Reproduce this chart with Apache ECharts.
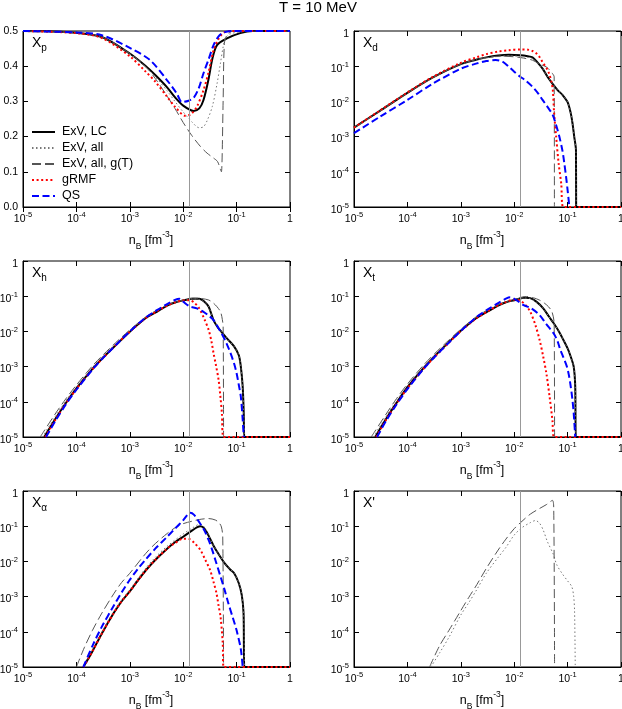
<!DOCTYPE html>
<html>
<head>
<meta charset="utf-8">
<script src="https://cdn.jsdelivr.net/npm/echarts@6/dist/echarts.min.js"></script>
<style>
html, body { margin: 0; padding: 0; background: #fff; }
#main { width: 622px; height: 709px; }
</style>
</head>
<body>
<div id="main"></div>
<script>
// series names, same order in every panel
var names = ['ExV, LC', 'ExV, all', 'ExV, all, g(T)', 'gRMF', 'QS'];
var nVert = 0.0132;   // grey vertical marker

// X_p  (linear y)
var xpLC  = [[1e-5,0.5],[3e-5,0.499],[1e-4,0.495],[3e-4,0.483],[1e-3,0.436],[2e-3,0.4],[3e-3,0.375],[5e-3,0.34],[7e-3,0.312],[1e-2,0.288],[1.57e-2,0.273],[2e-2,0.28],[2.4e-2,0.304],[3e-2,0.365],[3.5e-2,0.42],[4.3e-2,0.46],[6.6e-2,0.479],[0.117,0.494],[0.2,0.5],[1,0.5]];
var xpAll = [[1e-5,0.5],[1e-4,0.495],[3e-4,0.483],[1e-3,0.435],[2e-3,0.398],[3e-3,0.37],[5e-3,0.33],[7e-3,0.3],[1e-2,0.27],[1.45e-2,0.242],[2e-2,0.225],[2.4e-2,0.228],[2.8e-2,0.245],[3.5e-2,0.285],[4.3e-2,0.35],[5e-2,0.41],[5.6e-2,0.455],[6.2e-2,0.48],[7.7e-2,0.492],[0.117,0.497],[0.2,0.5],[1,0.5]];
var xpGT  = [[1e-5,0.5],[1e-4,0.495],[3e-4,0.483],[1e-3,0.436],[2e-3,0.398],[3e-3,0.365],[5e-3,0.315],[7e-3,0.28],[1e-2,0.24],[1.45e-2,0.203],[2.1e-2,0.172],[2.8e-2,0.153],[3.7e-2,0.139],[4.4e-2,0.129],[5e-2,0.106],[5.2e-2,0.1],[5.6e-2,0.304],[5.9e-2,0.464],[6.6e-2,0.488],[8.8e-2,0.5],[1,0.5]];
var xpRMF = [[1e-5,0.5],[1e-4,0.494],[3e-4,0.48],[1e-3,0.428],[2e-3,0.384],[3e-3,0.356],[5e-3,0.313],[7e-3,0.285],[1.1e-2,0.259],[1.4e-2,0.264],[1.8e-2,0.285],[2.4e-2,0.332],[3e-2,0.384],[3.7e-2,0.445],[4.6e-2,0.478],[5.7e-2,0.495],[7.7e-2,0.5],[1,0.5]];
var xpQS  = [[1e-5,0.5],[1e-4,0.496],[3e-4,0.488],[1e-3,0.452],[2.4e-3,0.417],[5e-3,0.36],[7.6e-3,0.322],[9.5e-3,0.298],[1.26e-2,0.302],[1.57e-2,0.31],[1.95e-2,0.337],[2.4e-2,0.38],[3e-2,0.42],[3.7e-2,0.46],[4.6e-2,0.485],[5.7e-2,0.496],[8.8e-2,0.5],[1,0.5]];

// X_d
var xdLC  = [[1e-5,1.8e-3],[3e-5,5.3e-3],[1e-4,1.75e-2],[3e-4,4.8e-2],[1e-3,0.115],[2e-3,0.155],[3e-3,0.178],[5e-3,0.2],[8e-3,0.21],[1.3e-2,0.205],[1.8e-2,0.192],[2.2e-2,0.178],[2.7e-2,0.13],[3.4e-2,0.085],[4.2e-2,0.05],[5.2e-2,0.032],[6.5e-2,0.021],[8.1e-2,0.015],[0.1,0.0095],[0.115,0.0045],[0.124,0.0023],[0.133,1e-3],[0.1435,4e-4],[0.1445,1e-5],[1,1e-5]];
var xdAll = [[1e-5,1.75e-3],[3e-5,5.2e-3],[1e-4,1.72e-2],[3e-4,4.7e-2],[1e-3,0.113],[2e-3,0.152],[3e-3,0.172],[5e-3,0.19],[8e-3,0.197],[1.3e-2,0.19],[1.8e-2,0.178],[2.2e-2,0.165],[2.7e-2,0.125],[3.4e-2,0.085],[4.2e-2,0.05],[5.2e-2,0.032],[6.5e-2,0.021],[8.1e-2,0.015],[0.1,0.0095],[0.115,0.0045],[0.124,0.0023],[0.133,1e-3],[0.1435,4e-4],[0.1445,1e-5]];
var xdGT  = [[1e-5,1.8e-3],[3e-5,5.3e-3],[1e-4,1.75e-2],[3e-4,4.8e-2],[1e-3,0.115],[2e-3,0.155],[3e-3,0.175],[5.3e-3,0.193],[1e-2,0.185],[1.5e-2,0.17],[2.2e-2,0.148],[3e-2,0.115],[4e-2,0.095],[4.7e-2,0.075],[5.2e-2,0.062],[5.6e-2,0.05],[5.66e-2,1e-5]];
var xdRMF = [[1e-5,1.8e-3],[3e-5,5.4e-3],[1e-4,1.8e-2],[3e-4,5e-2],[1e-3,0.125],[2e-3,0.18],[3e-3,0.22],[5e-3,0.26],[8e-3,0.285],[1.3e-2,0.3],[1.8e-2,0.295],[2.2e-2,0.27],[2.6e-2,0.23],[3e-2,0.18],[3.4e-2,0.13],[4e-2,0.09],[4.5e-2,0.062],[5e-2,0.035],[5.3e-2,0.02],[5.6e-2,4.5e-3],[6.1e-2,1e-3],[6.8e-2,1.7e-4],[7.6e-2,4.6e-5],[8.3e-2,1e-5],[1,1e-5]];
var xdQS  = [[1e-5,1.25e-3],[3e-5,3.6e-3],[1e-4,1.1e-2],[3e-4,3.2e-2],[1e-3,0.085],[2e-3,0.12],[3e-3,0.14],[4.5e-3,0.15],[6e-3,0.135],[8e-3,0.095],[1e-2,0.07],[1.26e-2,0.052],[1.6e-2,0.04],[2.2e-2,0.026],[2.8e-2,0.017],[3.4e-2,0.011],[4.2e-2,7e-3],[5.2e-2,4.3e-3],[6e-2,2.3e-3],[7e-2,1e-3],[8e-2,4e-4],[8.7e-2,1.7e-4],[9.5e-2,6e-5],[0.1,3e-5],[0.108,1e-5]];

// X_h
var xhLC  = [[2.5e-5,1e-5],[4e-5,3.2e-5],[6.3e-5,9.1e-5],[1e-4,2.4e-4],[2e-4,8.6e-4],[3.2e-4,1.84e-3],[6e-4,4.7e-3],[1e-3,9.8e-3],[2e-3,2.4e-2],[3.2e-3,3.6e-2],[5e-3,5.4e-2],[7e-3,6.6e-2],[1e-2,7.6e-2],[1.5e-2,8.5e-2],[2e-2,8.5e-2],[2.5e-2,7e-2],[3e-2,5e-2],[3.7e-2,2.1e-2],[4.3e-2,1.4e-2],[5e-2,1.05e-2],[6.6e-2,6.3e-3],[8.9e-2,3.8e-3],[0.11,2.1e-3],[0.12,1e-3],[0.13,2.7e-4],[0.136,4.8e-5],[0.14,1e-5],[1,1e-5]];
var xhAll = [[2.3e-5,1e-5],[4e-5,3.8e-5],[6.3e-5,1.05e-4],[1e-4,2.7e-4],[2e-4,9.5e-4],[3.2e-4,2e-3],[6e-4,5e-3],[1e-3,1.02e-2],[2e-3,2.5e-2],[3.2e-3,3.8e-2],[5e-3,5.6e-2],[1e-2,7.8e-2],[1.5e-2,8.4e-2],[2e-2,8.2e-2],[2.5e-2,6.8e-2],[3e-2,5e-2],[3.7e-2,2.1e-2],[5e-2,1.05e-2],[6.6e-2,6.3e-3],[8.9e-2,3.8e-3],[0.11,2.1e-3],[0.12,1e-3],[0.13,2.7e-4],[0.136,4.8e-5],[0.14,1e-5]];
var xhGT  = [[2.1e-5,1e-5],[4e-5,4.5e-5],[6.3e-5,1.2e-4],[1e-4,3e-4],[2e-4,1.05e-3],[3.2e-4,2.2e-3],[6e-4,5.5e-3],[1e-3,1.1e-2],[2e-3,2.6e-2],[3.2e-3,4e-2],[5e-3,5.6e-2],[1e-2,7.8e-2],[1.5e-2,8.8e-2],[2e-2,8.7e-2],[3e-2,7.8e-2],[3.7e-2,6.3e-2],[4.3e-2,5e-2],[5e-2,3.6e-2],[5.4e-2,2.2e-2],[5.6e-2,1.35e-2],[5.7e-2,1e-5]];
var xhRMF = [[2.6e-5,1e-5],[4e-5,3e-5],[6.3e-5,8.8e-5],[1e-4,2.3e-4],[2e-4,8.4e-4],[3.2e-4,1.8e-3],[6e-4,4.7e-3],[1e-3,9.8e-3],[2e-3,2.4e-2],[3.2e-3,3.7e-2],[5e-3,5.4e-2],[7e-3,6.6e-2],[1e-2,7.6e-2],[1.3e-2,7.7e-2],[1.6e-2,6.6e-2],[2e-2,4.5e-2],[2.5e-2,2.2e-2],[3e-2,1.1e-2],[3.4e-2,5e-3],[3.7e-2,2.4e-3],[4.1e-2,1.1e-3],[4.6e-2,4.2e-4],[5e-2,1.3e-4],[5.3e-2,4.8e-5],[5.7e-2,1e-5],[1,1e-5]];
var xhQS  = [[2.7e-5,1e-5],[4e-5,2.8e-5],[6.3e-5,8.3e-5],[1e-4,2.2e-4],[2e-4,8.2e-4],[3.2e-4,1.8e-3],[6e-4,4.7e-3],[1e-3,1e-2],[2e-3,2.5e-2],[3.2e-3,4e-2],[5e-3,6e-2],[7e-3,7.8e-2],[8.5e-3,8.4e-2],[1e-2,7e-2],[1.3e-2,5.2e-2],[1.8e-2,4.5e-2],[2.4e-2,3.6e-2],[3e-2,2.8e-2],[3.7e-2,2.1e-2],[4.5e-2,1.3e-2],[5.4e-2,8e-3],[6.5e-2,4.5e-3],[7.7e-2,2.4e-3],[0.09,1.2e-3],[0.1,6.5e-4],[0.11,3e-4],[0.12,1.4e-4],[0.13,3.1e-5],[0.136,1e-5]];

// X_t
var xtLC  = [[2.5e-5,1e-5],[4e-5,3.3e-5],[6.3e-5,9.5e-5],[1e-4,2.6e-4],[2e-4,9e-4],[3.2e-4,1.95e-3],[6e-4,5e-3],[1e-3,1.05e-2],[2e-3,2.45e-2],[3.2e-3,3.7e-2],[5e-3,5.4e-2],[7e-3,6.7e-2],[1e-2,7.7e-2],[1.5e-2,9.1e-2],[2e-2,8.8e-2],[2.6e-2,7e-2],[3.5e-2,4.5e-2],[4.5e-2,2.6e-2],[5.5e-2,1.7e-2],[7e-2,9.5e-3],[8.4e-2,5.6e-3],[0.1,3.3e-3],[0.112,2.1e-3],[0.13,1e-3],[0.139,2.7e-4],[0.143,1e-5],[1,1e-5]];
var xtAll = [[2.3e-5,1e-5],[4e-5,3.9e-5],[6.3e-5,1.1e-4],[1e-4,2.9e-4],[2e-4,1e-3],[3.2e-4,2.1e-3],[6e-4,5.3e-3],[1e-3,1.1e-2],[2e-3,2.55e-2],[3.2e-3,3.9e-2],[5e-3,5.6e-2],[1e-2,7.9e-2],[1.5e-2,8.9e-2],[2e-2,8.5e-2],[2.6e-2,6.8e-2],[3.5e-2,4.5e-2],[4.5e-2,2.6e-2],[5.5e-2,1.7e-2],[7e-2,9.5e-3],[8.4e-2,5.6e-3],[0.1,3.3e-3],[0.112,2.1e-3],[0.13,1e-3],[0.139,2.7e-4],[0.143,1e-5]];
var xtGT  = [[2.1e-5,1e-5],[4e-5,4.5e-5],[6.3e-5,1.25e-4],[1e-4,3.2e-4],[2e-4,1.1e-3],[3.2e-4,2.3e-3],[6e-4,5.7e-3],[1e-3,1.15e-2],[2e-3,2.7e-2],[3.2e-3,4.1e-2],[5e-3,5.8e-2],[1e-2,8.2e-2],[1.7e-2,9.8e-2],[2.3e-2,9e-2],[3e-2,7.7e-2],[3.7e-2,6.3e-2],[4.4e-2,5e-2],[5.1e-2,3.6e-2],[5.6e-2,1.7e-2],[5.7e-2,1e-5]];
var xtRMF = [[2.6e-5,1e-5],[4e-5,3.1e-5],[6.3e-5,9e-5],[1e-4,2.4e-4],[2e-4,8.6e-4],[3.2e-4,1.85e-3],[6e-4,4.8e-3],[1e-3,1.02e-2],[2e-3,2.4e-2],[3.2e-3,3.7e-2],[5e-3,5.5e-2],[7e-3,6.8e-2],[1e-2,8e-2],[1.3e-2,7.4e-2],[1.6e-2,5.8e-2],[2e-2,3.6e-2],[2.5e-2,1.5e-2],[3e-2,5.6e-3],[3.5e-2,1.9e-3],[4e-2,6.5e-4],[4.6e-2,1.4e-4],[5.2e-2,3e-5],[5.6e-2,1e-5],[1,1e-5]];
var xtQS  = [[2.7e-5,1e-5],[4e-5,2.9e-5],[6.3e-5,8.5e-5],[1e-4,2.3e-4],[2e-4,8.5e-4],[3.2e-4,1.85e-3],[6e-4,4.8e-3],[1e-3,1.03e-2],[2e-3,2.6e-2],[3.2e-3,4.2e-2],[5e-3,6.4e-2],[7e-3,8.5e-2],[8.4e-3,9.3e-2],[1.1e-2,7.7e-2],[1.5e-2,5.6e-2],[2.1e-2,4.5e-2],[3e-2,2.9e-2],[4e-2,1.6e-2],[5.5e-2,8.7e-3],[6.5e-2,5.2e-3],[7.3e-2,3e-3],[8.5e-2,1.7e-3],[9.7e-2,1e-3],[0.105,6e-4],[0.112,3.4e-4],[0.122,1.3e-4],[0.13,4.8e-5],[0.139,1e-5]];

// X_alpha
var xaLC  = [[1.35e-4,1e-5],[1.7e-4,1.8e-5],[2e-4,2.8e-5],[3e-4,9e-5],[5e-4,3.4e-4],[7e-4,7.3e-4],[1e-3,1.4e-3],[1.4e-3,2.8e-3],[2e-3,5.6e-3],[3e-3,1.1e-2],[5e-3,2.3e-2],[7e-3,3.5e-2],[1e-2,5e-2],[1.5e-2,7.7e-2],[1.8e-2,9.2e-2],[2.1e-2,0.1],[2.4e-2,0.092],[2.7e-2,0.072],[3e-2,5.3e-2],[3.7e-2,2.8e-2],[4.5e-2,1.7e-2],[6e-2,8.8e-3],[7.5e-2,6e-3],[9e-2,4.6e-3],[0.11,2.4e-3],[0.125,1.1e-3],[0.135,3.4e-4],[0.14,1e-5],[1,1e-5]];
var xaAll = [[1.3e-4,1e-5],[2e-4,3.2e-5],[3e-4,1e-4],[5e-4,3.8e-4],[1e-3,1.6e-3],[2e-3,6.5e-3],[3e-3,1.3e-2],[5e-3,2.7e-2],[1e-2,6e-2],[1.5e-2,9e-2],[2e-2,0.112],[2.4e-2,0.1],[2.7e-2,0.075],[3e-2,5.5e-2],[3.7e-2,2.8e-2],[4.5e-2,1.7e-2],[6e-2,8.8e-3],[7.5e-2,6e-3],[9e-2,4.6e-3],[0.11,2.4e-3],[0.125,1.1e-3],[0.135,3.4e-4],[0.14,1e-5]];
var xaGT  = [[1e-4,1e-5],[1.4e-4,3.5e-5],[2e-4,1.1e-4],[3e-4,3.4e-4],[5e-4,1.2e-3],[7e-4,2.5e-3],[1e-3,4.6e-3],[2e-3,1.7e-2],[3e-3,3.2e-2],[5e-3,6.2e-2],[7e-3,9e-2],[1e-2,0.118],[1.5e-2,0.14],[2e-2,0.155],[3e-2,0.165],[4e-2,0.15],[4.7e-2,0.125],[5.2e-2,0.095],[5.5e-2,5e-2],[5.7e-2,1e-5]];
var xaRMF = [[1.35e-4,1e-5],[1.7e-4,1.8e-5],[2e-4,2.8e-5],[3e-4,9e-5],[5e-4,3.4e-4],[7e-4,7.3e-4],[1e-3,1.4e-3],[1.4e-3,2.8e-3],[2e-3,5.6e-3],[3e-3,1.1e-2],[5e-3,2.3e-2],[7e-3,3.3e-2],[1e-2,4.4e-2],[1.3e-2,4.3e-2],[1.6e-2,3.4e-2],[2.1e-2,2.1e-2],[2.6e-2,1.1e-2],[3.2e-2,5.6e-3],[3.7e-2,2.6e-3],[4.2e-2,1.25e-3],[4.6e-2,5.5e-4],[5e-2,2.7e-4],[5.5e-2,4.8e-5],[5.7e-2,1e-5],[1,1e-5]];
var xaQS  = [[1.35e-4,1e-5],[2e-4,4e-5],[3e-4,1.4e-4],[5e-4,5.5e-4],[7e-4,1.3e-3],[1e-3,3e-3],[1.4e-3,6e-3],[2e-3,1.15e-2],[3e-3,2.3e-2],[5e-3,5e-2],[7e-3,8.5e-2],[1e-2,0.148],[1.2e-2,0.21],[1.35e-2,0.24],[1.6e-2,0.21],[2e-2,0.13],[2.5e-2,7.5e-2],[3e-2,4e-2],[3.5e-2,2.1e-2],[4e-2,1.1e-2],[5e-2,3.7e-3],[6e-2,1.5e-3],[7e-2,6.5e-4],[8.5e-2,2.5e-4],[0.1,1.1e-4],[0.12,3.2e-5],[0.13,1e-5]];

// X'
var xoAll = [[2.75e-4,1e-5],[4e-4,2.5e-5],[6e-4,7e-5],[1e-3,3e-4],[1.4e-3,6.6e-4],[2e-3,1.6e-3],[3e-3,4.6e-3],[5e-3,1.3e-2],[7e-3,2.5e-2],[1e-2,5.6e-2],[1.4e-2,9.1e-2],[2e-2,0.126],[2.5e-2,0.145],[3e-2,0.12],[3.5e-2,7.7e-2],[4.2e-2,3.6e-2],[5.3e-2,1.7e-2],[6.3e-2,7.9e-3],[8e-2,4.4e-3],[9.8e-2,2.9e-3],[0.12,1.9e-3],[0.13,1e-3],[0.135,4e-4],[0.139,1e-5]];
var xoGT  = [[2.6e-4,1e-5],[4e-4,4e-5],[6e-4,1.1e-4],[1e-3,4e-4],[1.4e-3,9.3e-4],[2e-3,2.2e-3],[3e-3,6.3e-3],[5e-3,2.1e-2],[7e-3,4.3e-2],[1e-2,8.5e-2],[1.4e-2,0.138],[2e-2,0.22],[3e-2,0.32],[4e-2,0.41],[5.2e-2,0.54],[5.5e-2,0.3],[5.7e-2,1e-5]];

var FONT = '"Liberation Sans", Arial, sans-serif';
var styles = [
    { color: '#000', width: 2, type: 'solid' },
    { color: '#777', width: 1, type: [1.5, 2.5] },
    { color: '#555', width: 1, type: [9, 4] },
    { color: '#ff0000', width: 2, type: [2, 2.6] },
    { color: '#0000ff', width: 2, type: [7, 3.5] }
];

var panels = [
    { lab: '{x|X}{s|p}', log: false, data: [xpLC, xpAll, xpGT, xpRMF, xpQS] },
    { lab: '{x|X}{s|d}', log: true,  data: [xdLC, xdAll, xdGT, xdRMF, xdQS] },
    { lab: '{x|X}{s|h}', log: true,  data: [xhLC, xhAll, xhGT, xhRMF, xhQS] },
    { lab: '{x|X}{s|t}', log: true,  data: [xtLC, xtAll, xtGT, xtRMF, xtQS] },
    { lab: '{x|X}{s|\u03b1}', log: true, data: [xaLC, xaAll, xaGT, xaRMF, xaQS] },
    { lab: "{x|X'}", log: true, data: [null, xoAll, xoGT, null, null] }
];

var lefts = [23, 354], tops = [31, 261, 491];
var W = 267, H = 176;

function powFmt(v) {
    var e = Math.round(Math.log10(v));
    return e === 0 ? '{b|1}' : '{b|10}{s|' + e + '}';
}
var tickRich = {
    b: { fontSize: 10.5, lineHeight: 11, padding: [3, 0, 0, 0], verticalAlign: 'top', fontFamily: FONT, color: '#000' },
    s: { fontSize: 7.5, lineHeight: 8, verticalAlign: 'top', fontFamily: FONT, color: '#000' }
};

var grids = [], xAxes = [], yAxes = [], series = [], titles = [];

titles.push({
    text: 'T = 10 MeV', left: 279, top: 0, padding: 0,
    textStyle: { fontSize: 15, fontWeight: 'normal', fontFamily: FONT, color: '#000' }
});

panels.forEach(function (p, i) {
    var gl = lefts[i % 2], gt = tops[Math.floor(i / 2)];
    grids.push({ left: gl, top: gt, width: W, height: H, show: true, borderColor: '#000', borderWidth: 1, outerBoundsMode: 'none' });

    // bottom axis with labels, top axis only for mirrored ticks
    xAxes.push({
        gridIndex: i, type: 'log', logBase: 10, min: 1e-5, max: 1, position: 'bottom',
        axisLine: { show: true, lineStyle: { color: '#000', width: 1 } },
        axisTick: { inside: true, length: 5, lineStyle: { color: '#000', width: 1 } },
        splitLine: { show: false },
        axisLabel: { margin: 4, formatter: powFmt, rich: tickRich, showMinLabel: true, showMaxLabel: true },
        name: '{b|n}{sb|B}{b| [fm}{sp|-3}{b|]}', nameLocation: 'middle', nameGap: 23,
        nameTextStyle: {
            padding: [0, 11, 0, 0],
            rich: {
                b: { fontSize: 12.5, lineHeight: 14, padding: [4, 0, 0, 0], verticalAlign: 'top', fontFamily: FONT, color: '#000' },
                sp: { fontSize: 8.5, lineHeight: 9, verticalAlign: 'top', fontFamily: FONT, color: '#000' },
                sb: { fontSize: 8.5, lineHeight: 9, padding: [12, 0, 0, 0], verticalAlign: 'top', fontFamily: FONT, color: '#000' }
            }
        }
    });
    xAxes.push({
        gridIndex: i, type: 'log', logBase: 10, min: 1e-5, max: 1, position: 'top',
        axisLine: { show: false }, axisLabel: { show: false }, splitLine: { show: false },
        axisTick: { inside: true, length: 5, lineStyle: { color: '#000', width: 1 } }
    });

    var yMain, yMirror;
    if (p.log) {
        yMain = { type: 'log', logBase: 10, min: 1e-5, max: 1,
                  axisLabel: { margin: 5, formatter: powFmt, rich: tickRich, showMinLabel: true, showMaxLabel: true } };
        yMirror = { type: 'log', logBase: 10, min: 1e-5, max: 1 };
    } else {
        yMain = { type: 'value', min: 0, max: 0.5, interval: 0.1,
                  axisLabel: { margin: 5, fontSize: 10.5, fontFamily: FONT, color: '#000',
                               formatter: function (v) { return v.toFixed(1); } } };
        yMirror = { type: 'value', min: 0, max: 0.5, interval: 0.1 };
    }
    yMain.gridIndex = i;
    yMain.position = 'left';
    yMain.axisLine = { show: true, lineStyle: { color: '#000', width: 1 } };
    yMain.axisTick = { inside: true, length: 5, lineStyle: { color: '#000', width: 1 } };
    yMain.splitLine = { show: false };
    yAxes.push(yMain);
    yMirror.gridIndex = i;
    yMirror.position = 'right';
    yMirror.axisLine = { show: false };
    yMirror.axisLabel = { show: false };
    yMirror.splitLine = { show: false };
    yMirror.axisTick = { inside: true, length: 5, lineStyle: { color: '#000', width: 1 } };
    yAxes.push(yMirror);

    titles.push({
        text: p.lab, left: gl + 9, top: gt + 5, padding: 0,
        textStyle: {
            fontWeight: 'normal',
            rich: {
                x: { fontSize: 14, lineHeight: 14, fontWeight: 'normal', verticalAlign: 'top', fontFamily: FONT, color: '#000' },
                s: { fontSize: 10, lineHeight: 10, fontWeight: 'normal', padding: [7, 0, 0, 0], verticalAlign: 'top', fontFamily: FONT, color: '#000' }
            }
        }
    });

    var first = true;
    p.data.forEach(function (d, k) {
        if (!d) return;
        var s = {
            type: 'line', name: names[k], data: d,
            xAxisIndex: 2 * i, yAxisIndex: 2 * i,
            symbol: 'none', showSymbol: false, smooth: 0.3, clip: true,
            lineStyle: styles[k], itemStyle: { color: styles[k].color },
            emphasis: { disabled: true }
        };
        if (first) {
            s.markLine = {
                silent: true, precision: 6, symbol: ['none', 'none'], label: { show: false },
                lineStyle: { color: '#999', width: 1, type: 'solid' },
                data: [{ xAxis: nVert }]
            };
            first = false;
        }
        series.push(s);
    });
});

var myChart = echarts.init(document.getElementById('main'));
myChart.setOption({
    animation: false,
    backgroundColor: '#fff',
    title: titles,
    legend: {
        data: names, orient: 'vertical', left: 31, top: 125, padding: 0,
        itemWidth: 23, itemHeight: 14, itemGap: 2, selectedMode: false,
        itemStyle: { opacity: 0 },
        textStyle: { fontSize: 12.5, lineHeight: 14, fontFamily: FONT, color: '#000', padding: [0, 0, 0, 2] }
    },
    grid: grids,
    xAxis: xAxes,
    yAxis: yAxes,
    series: series
});
</script>
</body>
</html>
